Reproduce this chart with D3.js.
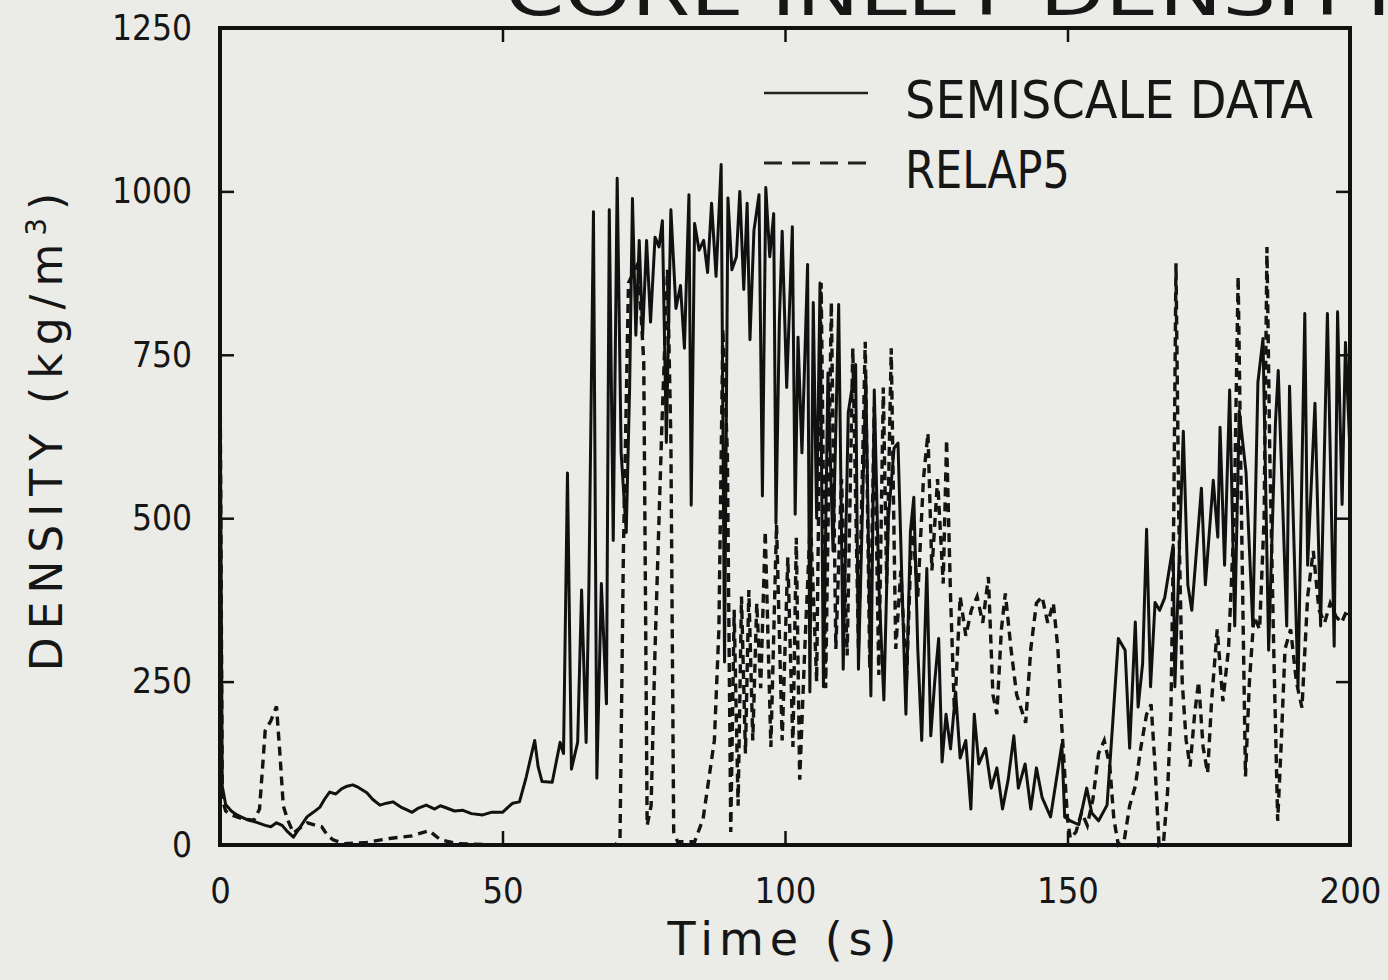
<!DOCTYPE html>
<html>
<head>
<meta charset="utf-8">
<title>Core inlet density</title>
<style>
  body { margin: 0; background: #ebebe8; }
  text { font-family: "DejaVu Sans", sans-serif; fill: #161616; }
  .tick text { font-family: "DejaVu Sans Condensed", "Liberation Sans Narrow", sans-serif; }
</style>
</head>
<body>
<svg id="chart" width="1388" height="980"></svg>
<script src="https://cdn.jsdelivr.net/npm/d3@7"></script>
<script>
// axis ticks
const xTicks = [0, 50, 100, 150, 200];
const yTicks = [0, 250, 500, 750, 1000, 1250];
const innerTicksX = [50, 100, 150];
const innerTicksY = [250, 500, 750, 1000];

// [time s, density kg/m3]
const semiscale = [
  [0,750],[0.4,90],[1,62],[2,52],[3,46],[4,42],[5,38],[6,36],[7,33],[8,30],[9,28],[10,34],[11,30],[12,20],[13,12],[14,25],
  [15.4,43],[16.5,50],[17.7,58],[18.5,70],[19.4,81],[20.5,78],[21.5,86],[22.5,90],[23.5,92],[24.5,88],[26,80],[27,70],
  [28.3,61],[29.5,64],[30.6,66],[32,58],[33,54],[34,50],[35,56],[36.5,61],[38,55],[39,60],[40,57],[41.5,52],[43,53],
  [44.5,48],[46.5,46],[48,50],[50,50],[51,58],[51.8,64],[53,66],[54.2,104],[55.7,160],[56.3,120],[57,97],[58.8,96],
  [60.2,157],[60.8,140],[61.5,569],[62.2,116],[63.3,157],[64,390],[64.8,157],[65.3,400],[66.1,969],[66.7,102],[67.5,400],
  [68.4,216],[68.9,972],[69.6,466],[70.3,1020],[71,600],[71.9,478],[72.5,700],[73,989],[73.6,780],[74.2,925],[74.8,780],
  [75.5,925],[76.2,800],[77,930],[77.7,915],[78.3,955],[79,616],[79.8,972],[80.7,821],[81.5,856],[82.2,760],[83,995],
  [83.4,520],[84,951],[84.8,910],[85.6,925],[86.3,876],[87,982],[87.8,870],[88.7,1041],[89.3,280],[89.9,990],[90.6,880],
  [91.4,900],[92,1000],[92.7,850],[93.3,982],[93.8,773],[94.5,940],[95.4,995],[96,534],[96.6,1006],[97.3,900],[98,966],
  [98.4,492],[99,800],[99.5,939],[100.3,700],[101.3,946],[101.8,506],[102.3,777],[103,600],[104,888],[104.4,234],[105,830],
  [105.6,500],[106.2,860],[106.8,242],[107.6,722],[108.5,450],[109.5,827],[110.3,269],[111.2,662],[112.5,735],[113,269],
  [114.3,716],[115.2,228],[115.8,696],[116.6,400],[117.5,222],[118.3,500],[119.3,607],[120,615],[120.7,400],[121.4,200],
  [122.2,480],[122.8,532],[123.5,300],[124.2,160],[125.1,423],[125.8,167],[126.5,250],[127.2,316],[127.8,127],[128.5,200],
  [129.3,147],[130.2,234],[131,133],[132,160],[132.9,55],[133.5,200],[134.3,124],[135.5,148],[136.5,87],[137.5,118],
  [138.5,55],[139.5,100],[140.5,167],[141.3,87],[142.5,124],[143.5,55],[144.5,118],[145.5,73],[147,43],[149,154],
  [149.5,43],[150.5,37],[152,31],[153.4,87],[154.3,49],[155.5,37],[157,61],[158,186],[159,316],[160.2,298],[161,148],
  [162,341],[162.5,211],[163.3,278],[164,483],[164.7,242],[165.5,371],[166.3,359],[167.2,378],[168.7,459],[169,242],
  [170.5,633],[171.3,398],[172,359],[173.7,546],[174.4,398],[175.8,558],[176.6,471],[177,639],[177.8,428],[178.7,696],
  [179.6,335],[180.4,664],[181.6,570],[182.8,335],[183.7,708],[184.6,775],[185.6,298],[186.8,645],[187.3,726],[188.8,335],
  [189.3,702],[190.8,242],[192,813],[192.5,428],[193.8,676],[194.8,335],[196,813],[197.2,304],[197.8,816],[198.6,521],
  [199.2,769],[200,600]
];

const relap5 = [
  [0,750],[0.4,70],[1,52],[2,46],[4,40],[6,38],[7,55],[8,175],[9,190],[10,212],[10.6,140],[11.2,60],[12,38],[13,18],
  [14,25],[15.5,34],[17,30],[18,28],[19,15],[20,8],[22,2],[26,4],[30,10],[34,14],[37,22],[39,8],[42,2],[50,0],[60,0],
  [70,0],[70.8,10],[71.4,450],[72.3,860],[74,890],[75,740],[75.6,30],[76.3,60],[77,300],[78.2,640],[79.2,880],[79.8,620],
  [80.3,20],[81,5],[84,5],[85.5,40],[86.5,100],[87.5,160],[88.3,330],[89,790],[89.8,600],[90.4,20],[91,360],[91.7,60],
  [92.3,380],[93,140],[93.6,390],[94.3,160],[95,370],[95.7,240],[96.5,480],[97.5,150],[98.5,490],[99.5,160],[100.5,440],
  [101.4,150],[102,470],[102.6,100],[103.5,300],[104.5,500],[105.6,250],[106.4,860],[107.2,240],[108.2,830],[109,300],
  [110,560],[111,290],[112,760],[113,300],[114.2,770],[115,270],[115.8,670],[116.6,260],[117.4,700],[118,400],[118.8,760],
  [119.6,300],[120.5,420],[121.5,250],[122.5,500],[123.5,380],[124.5,560],[125.3,630],[126,420],[127,560],[128,400],
  [128.6,620],[129.3,380],[130,200],[131,380],[132,320],[133,360],[134,380],[135,340],[136,410],[136.8,230],[137.5,200],
  [138.3,330],[139,385],[140,300],[141,230],[142.6,187],[143.5,300],[144.5,370],[145.5,380],[146.5,340],[147.5,370],
  [148.3,300],[149,180],[150,40],[150.5,10],[151.5,20],[152.5,50],[153.5,30],[154.5,70],[155.5,140],[156.5,160],
  [157.5,120],[158.2,40],[159,0],[160,5],[161,60],[162,90],[163,150],[164,200],[164.8,215],[165.5,120],[166.2,0],[167,5],
  [167.7,80],[168.3,200],[168.8,500],[169.2,890],[169.7,500],[170.3,250],[171,160],[171.7,120],[172.5,200],[173.2,250],
  [174,150],[174.8,110],[175.5,220],[176.5,330],[177.5,220],[178.5,300],[179.5,500],[180.2,870],[180.8,500],[181.5,105],
  [182.2,250],[183,350],[184,330],[184.8,500],[185.3,915],[185.8,600],[186.5,300],[187.2,37],[187.8,150],[188.5,300],
  [189.5,330],[190.5,250],[191.5,210],[192.5,380],[193.5,450],[194.5,360],[195.5,340],[196.5,370],[197.5,350],
  [198.5,340],[199.5,360],[200,350]
];

const svg = d3.select("#chart");
const x = d3.scaleLinear().domain([0, 200]).range([220, 1350]);
const y = d3.scaleLinear().domain([0, 1250]).range([845, 28]);

// title, cut off by the top edge of the scan
svg.append("text")
    .attr("x", 505).attr("y", 15)
    .attr("textLength", 900).attr("lengthAdjust", "spacingAndGlyphs")
    .style("font-size", "64px")
    .text("CORE INLET DENSITY");

const line = d3.line().x(d => x(d[0])).y(d => y(d[1]));

svg.append("path")
    .datum(relap5)
    .attr("d", line)
    .attr("fill", "none")
    .attr("stroke", "#141414")
    .attr("stroke-width", 3.4)
    .attr("stroke-dasharray", "9,6");

svg.append("path")
    .datum(semiscale)
    .attr("d", line)
    .attr("fill", "none")
    .attr("stroke", "#111")
    .attr("stroke-width", 3)
    .attr("stroke-linejoin", "round");

// axes: ticks point into the plot
const tickStyle = g => {
  g.select(".domain").remove();
  g.selectAll(".tick line").attr("stroke", "#111").attr("stroke-width", 2.5);
};

svg.append("g")
    .attr("transform", `translate(0,${y(0)})`)
    .call(d3.axisBottom(x).tickValues(xTicks).tickSize(-14).tickPadding(32).tickFormat(d3.format("d")))
    .call(tickStyle)
    .call(g => g.selectAll(".tick text").style("font-size", "36px").attr("fill", "#161616"));

svg.append("g")
    .attr("transform", `translate(${x(0)},0)`)
    .call(d3.axisLeft(y).tickValues(yTicks).tickSize(-14).tickPadding(28).tickFormat(d3.format("d")))
    .call(tickStyle)
    .call(g => g.selectAll(".tick text").style("font-size", "35px").attr("fill", "#161616"));

svg.append("g")
    .attr("transform", `translate(0,${y(1250)})`)
    .call(d3.axisTop(x).tickValues(innerTicksX).tickSize(-14).tickFormat(""))
    .call(tickStyle);

svg.append("g")
    .attr("transform", `translate(${x(200)},0)`)
    .call(d3.axisRight(y).tickValues(innerTicksY).tickSize(-14).tickFormat(""))
    .call(tickStyle);

// frame
svg.append("rect")
    .attr("x", x(0)).attr("y", y(1250))
    .attr("width", x(200) - x(0)).attr("height", y(0) - y(1250))
    .attr("fill", "none")
    .attr("stroke", "#111")
    .attr("stroke-width", 4);

// axis titles
svg.append("text")
    .attr("x", 785).attr("y", 955)
    .attr("text-anchor", "middle")
    .style("font-size", "46px")
    .style("letter-spacing", "6px")
    .text("Time (s)");

const yTitle = svg.append("text")
    .attr("transform", "translate(62,428) rotate(-90)")
    .attr("text-anchor", "middle")
    .style("font-size", "44px")
    .style("letter-spacing", "8px");
yTitle.append("tspan").text("DENSITY (kg/m");
yTitle.append("tspan").attr("dy", -16).style("font-size", "28px").text("3");
yTitle.append("tspan").attr("dy", 16).text(")");

// legend
const legend = [
  { label: "SEMISCALE DATA", dash: null, width: 2.6, y: 93, len: 408 },
  { label: "RELAP5", dash: "18,10", width: 3, y: 163, len: 165 }
];
const lg = svg.append("g").selectAll("g").data(legend).join("g");
lg.append("line")
    .attr("x1", 764).attr("x2", 868)
    .attr("y1", d => d.y).attr("y2", d => d.y)
    .attr("stroke", "#222")
    .attr("stroke-width", d => d.width)
    .attr("stroke-dasharray", d => d.dash);
lg.append("text")
    .attr("x", 905).attr("y", d => d.y + 25)
    .attr("textLength", d => d.len).attr("lengthAdjust", "spacingAndGlyphs")
    .style("font-size", "52px")
    .text(d => d.label);
</script>
</body>
</html>
